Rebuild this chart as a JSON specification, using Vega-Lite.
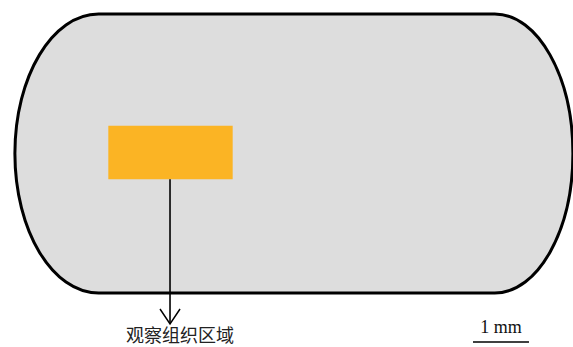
{
  "$schema": "https://vega.github.io/schema/vega-lite/v6.json",
  "width": 573,
  "height": 347,
  "autosize": {"type": "none"},
  "padding": 0,
  "background": "white",
  "config": {"view": {"stroke": null}},
  "layer": [
    {
      "data": {"values": [{"part": "sample", "x": 5.248, "y": 3.455}]},
      "mark": {
        "type": "point",
        "shape": "M -0.70 -0.5 L 0.72 -0.5 C 0.8746 -0.5 1 -0.2762 1 0 C 1 0.2762 0.8746 0.5 0.72 0.5 L -0.70 0.5 C -0.8657 0.5 -1 0.2762 -1 0 C -1 -0.2762 -0.8657 -0.5 -0.70 -0.5 Z",
        "size": 311364,
        "filled": true,
        "fill": "#dddddd",
        "stroke": "#000000",
        "strokeWidth": 3,
        "opacity": 1,
        "fillOpacity": 1,
        "strokeOpacity": 1
      },
      "encoding": {
        "x": {"field": "x", "type": "quantitative", "scale": {"domain": [0, 10.232], "nice": false, "zero": false}, "axis": null},
        "y": {"field": "y", "type": "quantitative", "scale": {"domain": [0, 6.196], "nice": false, "zero": false}, "axis": null}
      }
    },
    {
      "data": {"values": [{"part": "region", "x1": 1.934, "x2": 4.155, "y1": 2.995, "y2": 3.952}]},
      "mark": {"type": "rect", "fill": "#fbb424", "opacity": 1},
      "encoding": {
        "x": {"field": "x1", "type": "quantitative"},
        "x2": {"field": "x2"},
        "y": {"field": "y1", "type": "quantitative"},
        "y2": {"field": "y2"}
      }
    },
    {
      "data": {"values": [{"part": "arrow", "x": 3.036, "y1": 2.995, "y2": 0.411}]},
      "mark": {"type": "rule", "stroke": "#000000", "strokeWidth": 1.6},
      "encoding": {
        "x": {"field": "x", "type": "quantitative"},
        "y": {"field": "y1", "type": "quantitative"},
        "y2": {"field": "y2"}
      }
    },
    {
      "data": {"values": [{"part": "arrowhead", "x": 3.036, "y": 0.411}]},
      "mark": {
        "type": "point",
        "shape": "M -1 -1.5 L 0 0 L 1 -1.5",
        "size": 400,
        "filled": false,
        "stroke": "#000000",
        "strokeWidth": 1.5,
        "opacity": 1
      },
      "encoding": {
        "x": {"field": "x", "type": "quantitative"},
        "y": {"field": "y", "type": "quantitative"}
      }
    },
    {
      "data": {"values": [{"label": "观察组织区域", "x": 3.214, "y": 0.175}]},
      "mark": {"type": "text", "font": "Noto Sans CJK SC", "fontSize": 18, "align": "center", "baseline": "middle", "fill": "#222222"},
      "encoding": {
        "x": {"field": "x", "type": "quantitative"},
        "y": {"field": "y", "type": "quantitative"},
        "text": {"field": "label"}
      }
    },
    {
      "data": {"values": [{"part": "scalebar", "x1": 8.446, "x2": 9.446, "y": 0.089}]},
      "mark": {"type": "rule", "stroke": "#000000", "strokeWidth": 1.3},
      "encoding": {
        "x": {"field": "x1", "type": "quantitative"},
        "x2": {"field": "x2"},
        "y": {"field": "y", "type": "quantitative"}
      }
    },
    {
      "data": {"values": [{"label": "1 mm", "x": 8.946, "y": 0.255}]},
      "mark": {"type": "text", "font": "Liberation Serif", "fontSize": 18, "align": "center", "baseline": "alphabetic", "fill": "#111111"},
      "encoding": {
        "x": {"field": "x", "type": "quantitative"},
        "y": {"field": "y", "type": "quantitative"},
        "text": {"field": "label"}
      }
    }
  ]
}
